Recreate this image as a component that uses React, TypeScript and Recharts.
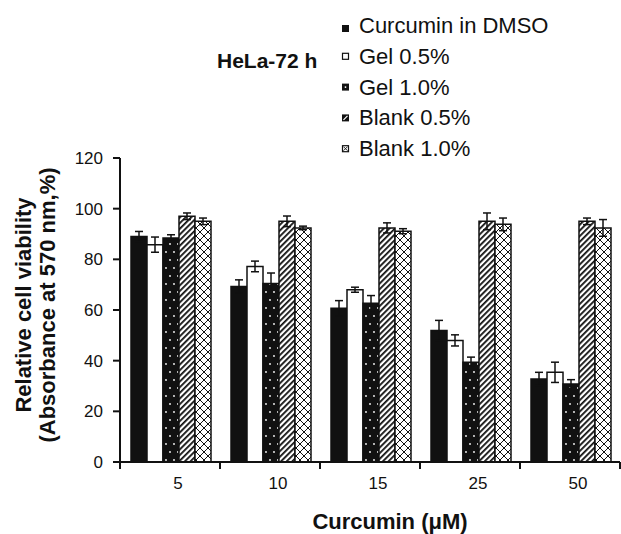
import React from 'react';
import { BarChart, Bar, XAxis, YAxis, ErrorBar } from 'recharts';

const categories = ['5', '10', '15', '25', '50'];
const curcuminDmso = [89, 69.3, 60.7, 51.9, 32.8];
const curcuminDmsoErr = [2, 2.6, 3, 4, 2.6];
const gel05 = [85.8, 77.2, 68, 48, 35.4];
const gel05Err = [3, 2.1, 1, 2.2, 4];
const gel10 = [88.4, 70.5, 62.7, 39.4, 30.8];
const gel10Err = [1.3, 4.1, 3, 2, 1.7];
const blank05 = [97, 95, 92.4, 95, 95];
const blank05Err = [1.3, 2.1, 2, 3.3, 1.3];
const blank10 = [95, 92.4, 91.1, 93.8, 92.4];
const blank10Err = [1.3, 0.7, 1, 2.5, 3.3];
const yTicks = [0, 20, 40, 60, 80, 100, 120];

const seriesNames = ['Curcumin in DMSO', 'Gel 0.5%', 'Gel 1.0%', 'Blank 0.5%', 'Blank 1.0%'];
const fills = ['#111', '#fff', 'url(#dots)', 'url(#diag)', 'url(#cross)'];

const data = categories.map((name, i) => ({
  name,
  cur: curcuminDmso[i], curErr: curcuminDmsoErr[i],
  g05: gel05[i], g05Err: gel05Err[i],
  g10: gel10[i], g10Err: gel10Err[i],
  b05: blank05[i], b05Err: blank05Err[i],
  b10: blank10[i], b10Err: blank10Err[i],
}));

const keys = ['cur', 'g05', 'g10', 'b05', 'b10'];
const font = '"Liberation Sans", Arial, sans-serif';
const TICK_MARGIN = 15;

const Patterns = () => (
  <svg width={0} height={0} style={{ position: 'absolute' }}>
    <defs>
      <pattern id="dots" patternUnits="userSpaceOnUse" width={8} height={16}>
        <rect width={8} height={16} fill="#111" />
        <circle cx={2} cy={4} r={0.9} fill="#fff" />
        <circle cx={6} cy={12} r={0.9} fill="#fff" />
      </pattern>
      <pattern id="diag" patternUnits="userSpaceOnUse" width={4} height={4} patternTransform="rotate(45)">
        <rect width={4} height={4} fill="#fff" />
        <rect width={1.8} height={4} fill="#111" />
      </pattern>
      <pattern id="cross" patternUnits="userSpaceOnUse" width={8} height={8}>
        <rect width={8} height={8} fill="#fff" />
        <path d="M0 0L8 8M8 0L0 8" stroke="#111" strokeWidth={1} />
      </pattern>
    </defs>
  </svg>
);

// category label, plus tick marks on the band edges (x-axis ticks sit between groups)
const XTick = (props: any) => {
  const { x, y, payload, index, visibleTicksCount } = props;
  const half = payload?.offset ?? 0;
  const axisY = y - TICK_MARGIN;
  const last = index === visibleTicksCount - 1;
  return (
    <g>
      <line x1={x - half} x2={x - half} y1={axisY} y2={axisY + 7} stroke="#111" strokeWidth={2} />
      {last && <line x1={x + half} x2={x + half} y1={axisY} y2={axisY + 7} stroke="#111" strokeWidth={2} />}
      <text x={x + 8} y={y} dy="0.71em" textAnchor="middle" fill="#111" fontSize={17} fontFamily={font}>
        {payload.value}
      </text>
    </g>
  );
};

const LegendIcon = ({ i, x, y }: { i: number; x: number; y: number }) => {
  if (i === 0) return <rect x={x} y={y} width={7} height={7} fill="#111" />;
  if (i === 1) return <rect x={x + 0.5} y={y + 0.5} width={6} height={6} fill="#fff" stroke="#111" strokeWidth={1.2} />;
  if (i === 2) return (
    <g>
      <rect x={x} y={y} width={7} height={7} fill="#111" />
      <circle cx={x + 3.5} cy={y + 3.5} r={0.9} fill="#fff" />
    </g>
  );
  if (i === 3) return (
    <g>
      <rect x={x} y={y} width={7} height={7} fill="#111" />
      <path d={`M${x + 1.5} ${y + 5.5}L${x + 5.5} ${y + 1.5}`} stroke="#fff" strokeWidth={1.2} />
    </g>
  );
  return (
    <g>
      <rect x={x + 0.5} y={y + 0.5} width={6} height={6} fill="#fff" stroke="#111" strokeWidth={1.2} />
      <path d={`M${x + 1.5} ${y + 1.5}L${x + 5.5} ${y + 5.5}M${x + 5.5} ${y + 1.5}L${x + 1.5} ${y + 5.5}`} stroke="#111" strokeWidth={0.9} />
    </g>
  );
};

const Overlay = () => (
  <svg width={621} height={534} style={{ position: 'absolute', left: 0, top: 0, pointerEvents: 'none' }}>
    <text x={217} y={67.5} fontFamily={font} fontSize={21} fontWeight="bold" fill="#111">HeLa-72 h</text>
    {seriesNames.map((s, i) => {
      const base = 33 + i * 30.8;
      return (
        <g key={s}>
          <LegendIcon i={i} x={342} y={i === 0 ? base - 8 : base - 11} />
          <text x={359} y={base} fontFamily={font} fontSize={22} fill="#111">{s}</text>
        </g>
      );
    })}
    <text transform="translate(31,305) rotate(-90)" textAnchor="middle" fontFamily={font} fontSize={22} fontWeight="bold" fill="#111">Relative cell viability</text>
    <text transform="translate(55,305) rotate(-90)" textAnchor="middle" fontFamily={font} fontSize={22} fontWeight="bold" fill="#111">(Absorbance at 570 nm,%)</text>
    <text x={390} y={529} textAnchor="middle" fontFamily={font} fontSize={22} fontWeight="bold" fill="#111">Curcumin (μM)</text>
  </svg>
);

export default function App() {
  return (
    <div style={{ position: 'absolute', left: 0, top: 0, width: 621, height: 534, background: '#fff' }}>
      <Patterns />
      <BarChart
        width={621}
        height={534}
        data={data}
        margin={{ top: 158, right: 1, left: 0, bottom: 0 }}
        barCategoryGap="11%"
        barGap={0}
      >
        <XAxis
          dataKey="name"
          height={72}
          axisLine={{ stroke: '#111', strokeWidth: 2 }}
          tickLine={false}
          tickSize={0}
          tickMargin={TICK_MARGIN}
          interval={0}
          tick={<XTick />}
        />
        <YAxis
          width={120}
          domain={[0, 120]}
          ticks={yTicks}
          interval={0}
          axisLine={{ stroke: '#111', strokeWidth: 2 }}
          tickLine={{ stroke: '#111', strokeWidth: 2 }}
          tickSize={7}
          tickMargin={10}
          tick={{ fill: '#111', fontSize: 17, fontFamily: font }}
        />
        {keys.map((k, i) => (
          <Bar key={k} dataKey={k} fill={fills[i]} stroke="#111" strokeWidth={1.5} isAnimationActive={false}>
            <ErrorBar dataKey={`${k}Err`} width={4} stroke="#111" strokeWidth={1.5} />
          </Bar>
        ))}
      </BarChart>
      <Overlay />
    </div>
  );
}
